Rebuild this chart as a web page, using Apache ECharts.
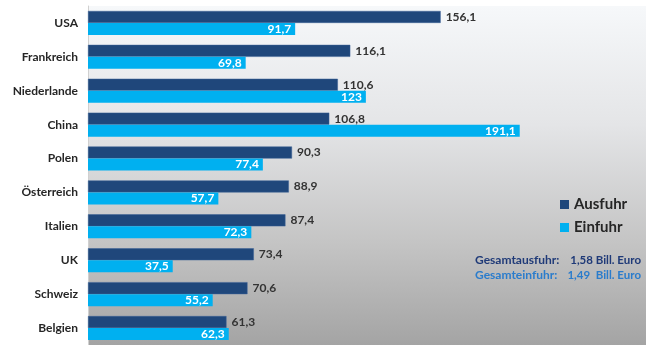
<!DOCTYPE html>
<html>
<head>
<meta charset="utf-8">
<script src="https://cdn.jsdelivr.net/npm/echarts@6/dist/echarts.min.js"></script>
<style>html,body{margin:0;padding:0;background:#fff}#c{width:646px;height:345px}</style>
</head>
<body>
<div id="c"></div>
<script>
const categories = ['USA','Frankreich','Niederlande','China','Polen','Österreich','Italien','UK','Schweiz','Belgien'];
const ausfuhr = [156.1,116.1,110.6,106.8,90.3,88.9,87.4,73.4,70.6,61.3];
const einfuhr = [91.7,69.8,123,191.1,77.4,57.7,72.3,37.5,55.2,62.3];
const seriesNames = ['Ausfuhr','Einfuhr'];
const unitText = 'in Mrd. Euro';
const totalLines = [['Gesamtausfuhr:','1,58 Bill. Euro'],['Gesamteinfuhr:','1,49  Bill. Euro']];

const fmt = p => String(p.value).replace('.', ',');
const FONT = 'Lato, "Open Sans", sans-serif';
const chart = echarts.init(document.getElementById('c'));
chart.setOption({
  animation: false,
  textStyle: {fontFamily: FONT},
  grid: {
    left: 88, right: 0, top: 6, bottom: -2, show: true, borderWidth: 0,
    backgroundColor: new echarts.graphic.LinearGradient(0,0,0,1,[
      {offset:0,color:'#f6f8fa'},{offset:0.35,color:'#e4e5e7'},{offset:0.7,color:'#c4c4c4'},{offset:1,color:'#a4a4a4'}
    ])
  },
  xAxis: {type:'value', min:0, max:247, show:false},
  yAxis: {
    type:'category', data: categories, inverse: true,
    axisLine:{show:true, lineStyle:{color:'#d0d0d0', width:1}},
    axisTick:{show:false},
    axisLabel:{color:'#262626', fontWeight:'bold', fontSize:12, margin:10, fontFamily: FONT}
  },
  legend: {
    orient:'vertical', left: 555, top: 192, itemWidth: 9, itemHeight: 9, itemGap: 8,
    icon: 'rect',
    itemStyle: {borderWidth: 0},
    textStyle:{fontSize:15, color:'#262626', fontWeight:'bold', fontFamily: FONT},
    data: seriesNames
  },
  series: [
    {name: seriesNames[0], type:'bar', data: ausfuhr, barWidth: 12, barGap: '0%',
     itemStyle:{color:'#1f477b', borderColor:'#3a6096', borderWidth:0.5},
     label:{show:true, position:'right', distance:5, formatter: fmt, color:'#333', fontWeight:'bold', fontSize:12, fontFamily: FONT}},
    {name: seriesNames[1], type:'bar', data: einfuhr, barWidth: 12, barGap: '0%',
     itemStyle:{color:'#00b0f0'},
     label:{show:true, position:'insideRight', distance:4, formatter: fmt, color:'#fff', fontWeight:'bold', fontSize:12, fontFamily: FONT}}
  ],
  graphic: [
    {type:'text', left: 8, top: -9, style:{text: unitText, fill:'#333', font: '11px ' + FONT}},
    {type:'text', left: 475, top: 254, style:{text: totalLines[0][0], fill:'#1f3a78', font:'bold 12px ' + FONT}},
    {type:'text', right: 5, top: 254, style:{text: totalLines[0][1], fill:'#1f3a78', font:'bold 11.5px ' + FONT}},
    {type:'text', left: 475, top: 269, style:{text: totalLines[1][0], fill:'#2a7ccc', font:'bold 12px ' + FONT}},
    {type:'text', right: 5, top: 269, style:{text: totalLines[1][1], fill:'#2a7ccc', font:'bold 11.5px ' + FONT}}
  ]
});
</script>
</body>
</html>
